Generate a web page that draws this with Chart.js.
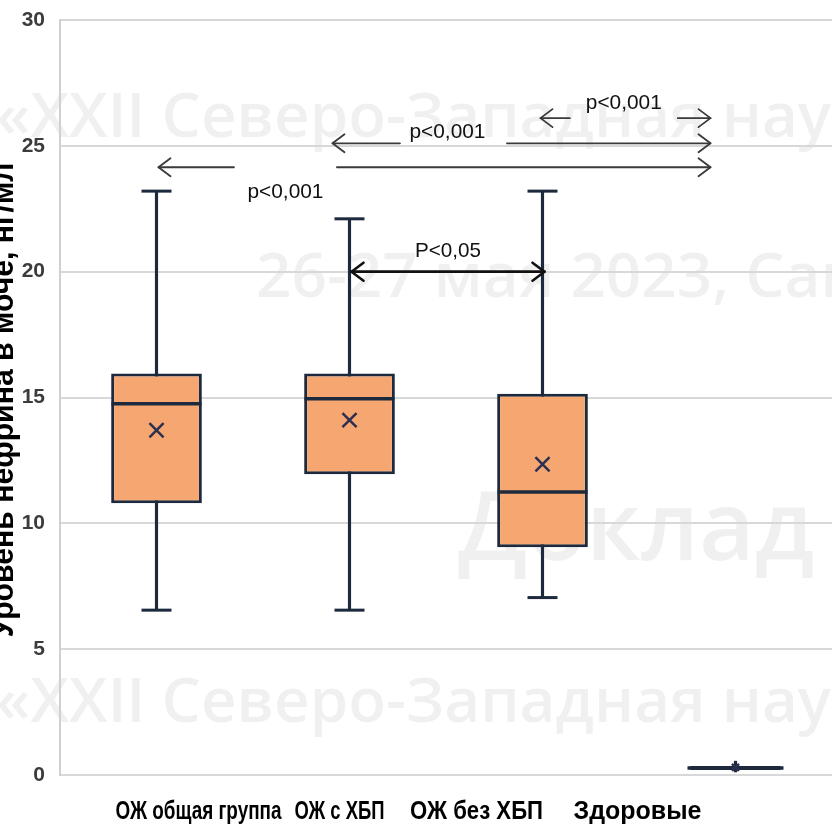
<!DOCTYPE html>
<html lang="ru">
<head>
<meta charset="UTF-8">
<title>Нефрин в моче</title>
<script src="https://cdn.jsdelivr.net/npm/chart.js"></script>
<style>
  html, body { margin: 0; padding: 0; background: #fff; overflow: hidden; }
  #wrap { width: 832px; height: 836px; position: relative; }
</style>
</head>
<body>
<div id="wrap"><canvas id="chart"></canvas></div>
<script>
// data
const categories = ['ОЖ общая группа', 'ОЖ с ХБП', 'ОЖ без ХБП', 'Здоровые'];
const minValues = [6.55, 6.55, 7.05, 0.12];
const q1Values = [10.8, 11.95, 9.05, 0.2];
const medianValues = [14.75, 14.95, 11.25, 0.28];
const q3Values = [15.95, 15.95, 15.15, 0.36];
const maxValues = [23.2, 22.1, 23.2, 0.55];
const meanValues = [13.7, 14.1, 12.35, 0.3];
const yTicks = [0, 5, 10, 15, 20, 25, 30];
const yTitle = 'Уровень нефрина в моче, нг/мл';

// pairwise comparisons: category indices, level on the value axis, label
const comparisons = [
  { from: 0, to: 3, level: 24.15, label: 'p<0,001' },
  { from: 1, to: 3, level: 25.1, label: 'p<0,001' },
  { from: 2, to: 3, level: 26.1, label: 'p<0,001' },
  { from: 1, to: 2, level: 20.0, label: 'P<0,05' }
];

const watermark = [
  { text: '«XXII Северо-Западная научная', x: -4, y: 137, size: 62 },
  { text: '26-27 мая 2023, Санкт-Петербург', x: 256, y: 297, size: 62 },
  { text: 'Доклад Гуляева', x: 458, y: 560, size: 96 },
  { text: '«XXII Северо-Западная научная', x: -4, y: 722, size: 62 }
];

const navy = '#1d2a3d';
const orange = '#F5A671';

// drawing style for each comparison arrow (same order as comparisons)
const arrowLook = [
  { dxFrom: 2, dxTo: -25, gapAt: 0.23, gap: 103, labelDx: 0, labelDy: 25, color: '#3a3a3a', width: 1.8 },
  { dxFrom: -17, dxTo: -25, gapAt: 0.32, gap: 107, labelDx: -6, labelDy: -11, color: '#3a3a3a', width: 1.8 },
  { dxFrom: -2, dxTo: -25, gapAt: 0.49, gap: 108, labelDx: 0, labelDy: -15, color: '#3a3a3a', width: 1.8 },
  { dxFrom: 2, dxTo: 2, gapAt: 0.5, gap: 0, labelDx: 0, labelDy: -20, color: '#111111', width: 2.6 }
];
const labelShift = [42, -10, -66, -98];
const labelWidth = [166, 90, 133, 135];

function head(ctx, x, y, dir) {
  ctx.beginPath();
  ctx.moveTo(x - dir * 12, y - 9);
  ctx.lineTo(x, y);
  ctx.lineTo(x - dir * 12, y + 9);
  ctx.stroke();
}

const decor = {
  id: 'decor',
  beforeDraw(chart) {
    const ctx = chart.ctx;
    ctx.save();
    ctx.fillStyle = 'rgba(0,0,0,0.06)';
    ctx.textBaseline = 'alphabetic';
    watermark.forEach(w => {
      ctx.font = '600 ' + w.size + 'px "Open Sans", sans-serif';
      ctx.fillText(w.text, w.x, w.y);
    });
    ctx.restore();
  },
  afterDatasetsDraw(chart) {
    const ctx = chart.ctx;
    const x = chart.scales.x, y = chart.scales.y;
    ctx.save();
    ctx.lineCap = 'round';
    ctx.lineJoin = 'round';
    comparisons.forEach((c, i) => {
      const s = arrowLook[i];
      const x1 = x.getPixelForValue(c.from) + s.dxFrom;
      const x2 = x.getPixelForValue(c.to) + s.dxTo;
      const yy = y.getPixelForValue(c.level);
      ctx.strokeStyle = s.color;
      ctx.lineWidth = s.width;
      const gc = x1 + (x2 - x1) * s.gapAt;
      ctx.beginPath();
      if (s.gap > 0) {
        ctx.moveTo(x1, yy); ctx.lineTo(gc - s.gap / 2, yy);
        ctx.moveTo(gc + s.gap / 2, yy); ctx.lineTo(x2, yy);
      } else {
        ctx.moveTo(x1, yy); ctx.lineTo(x2, yy);
      }
      ctx.stroke();
      head(ctx, x1, yy, -1);
      head(ctx, x2, yy, 1);
      ctx.fillStyle = '#111';
      ctx.font = '21px "Liberation Sans", sans-serif';
      ctx.textAlign = 'center';
      ctx.textBaseline = 'middle';
      ctx.fillText(c.label, gc + s.labelDx, yy + s.labelDy, c.label.length === 7 ? 76 : 66);
    });
    ctx.restore();
  },
  afterDraw(chart) {
    const ctx = chart.ctx;
    const x = chart.scales.x;
    ctx.save();
    ctx.fillStyle = '#000';
    ctx.font = 'bold 25px "Liberation Sans", sans-serif';
    ctx.textAlign = 'center';
    ctx.textBaseline = 'middle';
    categories.forEach((c, i) => {
      ctx.fillText(c, x.getPixelForValue(i) + labelShift[i], 812, labelWidth[i]);
    });
    ctx.translate(13, 400);
    ctx.rotate(-Math.PI / 2);
    ctx.font = 'bold 31px "Liberation Sans", sans-serif';
    ctx.textBaseline = 'alphabetic';
    ctx.fillText(yTitle, 0, 0, 475);
    ctx.restore();
  }
};

new Chart(document.getElementById('chart'), {
  type: 'bar',
  data: {
    labels: categories,
    datasets: [
      {
        label: 'whisker',
        data: categories.map((c, i) => [minValues[i], maxValues[i]]),
        backgroundColor: navy,
        barThickness: 2.5,
        grouped: false,
        order: 3
      },
      {
        label: 'box',
        data: categories.map((c, i) => [q1Values[i], q3Values[i]]),
        backgroundColor: orange,
        borderColor: navy,
        borderWidth: 3,
        borderSkipped: false,
        barPercentage: 0.47,
        categoryPercentage: 1,
        grouped: false,
        order: 2
      },
      {
        type: 'line', label: 'min', data: minValues, showLine: false,
        pointStyle: 'line', pointRadius: [15, 15, 15, 0], pointBorderWidth: 3,
        pointBorderColor: navy, order: 1
      },
      {
        type: 'line', label: 'max', data: maxValues, showLine: false,
        pointStyle: 'line', pointRadius: [15, 15, 15, 0], pointBorderWidth: 3,
        pointBorderColor: navy, order: 1
      },
      {
        type: 'line', label: 'median', data: medianValues, showLine: false,
        pointStyle: 'line', pointRadius: [45, 45, 45, 48], pointBorderWidth: 3.5,
        pointBorderColor: navy, order: 1
      },
      {
        type: 'line', label: 'mean', data: meanValues, showLine: false,
        pointStyle: 'crossRot', pointRadius: [10, 10, 10, 5], pointBorderWidth: 2.5,
        pointBorderColor: '#2b3050', order: 0
      }
    ]
  },
  options: {
    responsive: true,
    maintainAspectRatio: false,
    animation: false,
    events: [],
    layout: { autoPadding: false, padding: { top: 20, right: -8, left: 0, bottom: 0 } },
    plugins: { legend: { display: false }, tooltip: { enabled: false } },
    scales: {
      x: {
        grid: { display: false },
        border: { display: false },
        ticks: { display: false },
        afterFit(s) { s.height = 61; }
      },
      y: {
        min: 0,
        max: 30,
        afterBuildTicks(s) { s.ticks = yTicks.map(v => ({ value: v })); },
        afterFit(s) { s.width = 60; s.paddingTop = 0; s.paddingBottom = 0; },
        grid: { color: '#d8d8d8', lineWidth: 2, drawTicks: false },
        border: { display: true, color: '#d0d0d0', width: 2 },
        ticks: {
          padding: 15,
          color: '#3c3c3c',
          font: { family: '"Liberation Sans", sans-serif', size: 21, weight: 'bold' }
        }
      }
    }
  },
  plugins: [decor]
});
</script>
</body>
</html>
